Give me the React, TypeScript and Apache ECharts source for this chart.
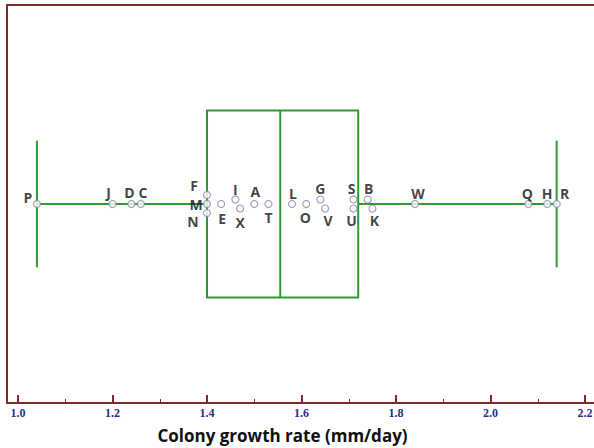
import React, { useEffect, useRef } from "react";
import * as echarts from "echarts";

// Isolate names, colony growth rates (mm/day), and vertical stacking level used to avoid overlap
const isolates = ["A","B","C","D","E","F","G","H","I","J","K","L","M","N","O","P","Q","R","S","T","U","V","W","X"];
const growthRates = [1.50,1.74,1.26,1.24,1.43,1.40,1.64,2.12,1.46,1.20,1.75,1.58,1.40,1.40,1.61,1.04,2.08,2.14,1.71,1.53,1.71,1.65,1.84,1.47];
const stackLevel = [0,1,0,0,0,2,1,0,1,0,-1,0,0,-2,0,0,0,0,1,0,-1,-1,0,-1];

// Box plot summary: [whisker low, Q1, median, Q3, whisker high]
const boxStats = [1.04, 1.40, 1.555, 1.72, 2.14];

const majorTicks = [1.0, 1.2, 1.4, 1.6, 1.8, 2.0, 2.2];
const minorTicks = [1.1, 1.3, 1.5, 1.7, 1.9, 2.1];

// label placement (style): offsets of each letter from its point
const labelOffsets: Record<string, [number, number]> = {
  A: [1, -13], B: [1, -11], C: [2, -12], D: [-2, -12], E: [1, 14], F: [-13, -9],
  G: [0, -11], H: [0, -11], I: [0, -10], J: [-4, -12], K: [2, 12], L: [1, -11],
  M: [-11, 0], N: [-14, 8], O: [-1, 13], P: [-9, -7], Q: [-1, -11], R: [8, -11],
  S: [-2, -11], T: [0, 13], U: [-2, 12], V: [3, 12], W: [3, -11], X: [0, 14],
};

const FRAME = "#7b2c2c";
const GREEN = "#2f9a30";
const X_MIN = 0.9767;
const X_MAX = 2.219;

export default function App() {
  const ref = useRef<HTMLDivElement>(null);
  useEffect(() => {
    if (!ref.current) return;
    const chart = echarts.init(ref.current, null, { renderer: "svg" });
    const boxHalf = 20.7;
    const capHalf = 14;
    const option: any = {
      animation: false,
      grid: { left: 7, right: 0, top: 5, bottom: 45, containLabel: false, outerBoundsMode: "none" },
      xAxis: [
        {
          type: "value",
          position: "bottom",
          min: X_MIN,
          max: X_MAX,
          axisLine: { show: true, onZero: false, lineStyle: { color: FRAME, width: 2 } },
          axisTick: { show: true, inside: true, length: 8, lineStyle: { color: FRAME, width: 2 }, customValues: majorTicks },
          axisLabel: {
            show: true,
            customValues: majorTicks,
            formatter: (v: number) => v.toFixed(1),
            color: "#2b2f82",
            fontFamily: "Liberation Serif",
            fontWeight: "bold",
            fontSize: 12,
            margin: 4,
          },
          splitLine: { show: false },
          name: "Colony growth rate (mm/day)",
          nameLocation: "middle",
          nameGap: 24,
          nameTextStyle: {
            color: "#111",
            fontFamily: "Open Sans",
            fontWeight: "bold",
            fontSize: 17,
            padding: [0, 36, 0, 0],
          },
        },
        {
          type: "value",
          position: "bottom",
          min: X_MIN,
          max: X_MAX,
          axisLine: { show: false, onZero: false },
          axisTick: { show: true, inside: true, length: 4, lineStyle: { color: FRAME, width: 1 }, customValues: minorTicks },
          axisLabel: { show: false },
          splitLine: { show: false },
        },
        {
          type: "value",
          position: "top",
          min: X_MIN,
          max: X_MAX,
          axisLine: { show: true, onZero: false, lineStyle: { color: FRAME, width: 2 } },
          axisTick: { show: false },
          axisLabel: { show: false },
          splitLine: { show: false },
        },
      ],
      yAxis: {
        type: "value",
        min: -44,
        max: 44,
        axisLine: { show: true, onZero: false, lineStyle: { color: FRAME, width: 2 } },
        axisTick: { show: false },
        axisLabel: { show: false },
        splitLine: { show: false },
      },
      series: [
        {
          type: "custom",
          coordinateSystem: "cartesian2d",
          xAxisIndex: 0,
          yAxisIndex: 0,
          z: 2,
          encode: { x: [0, 1, 2, 3, 4], y: 5 },
          data: [[...boxStats, 0]],
          renderItem: (params: any, api: any) => {
            const lo = api.value(0), q1 = api.value(1), med = api.value(2), q3 = api.value(3), hi = api.value(4);
            const pLoTop = api.coord([lo, capHalf]);
            const pLoBot = api.coord([lo, -capHalf]);
            const pHiTop = api.coord([hi, capHalf]);
            const pHiBot = api.coord([hi, -capHalf]);
            const pLoC = api.coord([lo, 0]);
            const pHiC = api.coord([hi, 0]);
            const pQ1C = api.coord([q1, 0]);
            const pQ3C = api.coord([q3, 0]);
            const pQ1Top = api.coord([q1, boxHalf]);
            const pQ3Bot = api.coord([q3, -boxHalf]);
            const pMedTop = api.coord([med, boxHalf]);
            const pMedBot = api.coord([med, -boxHalf]);
            const st = { stroke: GREEN, lineWidth: 2, fill: null };
            return {
              type: "group",
              children: [
                { type: "line", shape: { x1: pLoTop[0], y1: pLoTop[1], x2: pLoBot[0], y2: pLoBot[1] }, style: st },
                { type: "line", shape: { x1: pHiTop[0], y1: pHiTop[1], x2: pHiBot[0], y2: pHiBot[1] }, style: st },
                { type: "line", shape: { x1: pLoC[0], y1: pLoC[1], x2: pQ1C[0], y2: pQ1C[1] }, style: st },
                { type: "line", shape: { x1: pQ3C[0], y1: pQ3C[1], x2: pHiC[0], y2: pHiC[1] }, style: st },
                {
                  type: "rect",
                  shape: { x: pQ1Top[0], y: pQ1Top[1], width: pQ3Bot[0] - pQ1Top[0], height: pQ3Bot[1] - pQ1Top[1] },
                  style: { stroke: GREEN, lineWidth: 2, fill: "none" },
                },
                { type: "line", shape: { x1: pMedTop[0], y1: pMedTop[1], x2: pMedBot[0], y2: pMedBot[1] }, style: st },
              ],
            };
          },
        },
        {
          type: "scatter",
          xAxisIndex: 0,
          yAxisIndex: 0,
          z: 3,
          symbol: "circle",
          symbolSize: 7,
          itemStyle: { color: "#ffffff", borderColor: "#8a8aac", borderWidth: 1.2 },
          data: isolates.map((name, i) => ({
            name,
            value: [growthRates[i], stackLevel[i]],
            label: {
              show: true,
              position: "inside",
              offset: labelOffsets[name],
              formatter: name,
              color: "#111",
              fontFamily: "Open Sans",
              fontWeight: "bold",
              fontSize: 14,
              lineHeight: 13,
            },
          })),
        },
      ],
    };
    chart.setOption(option);
    return () => chart.dispose();
  }, []);
  return <div ref={ref} style={{ width: 594, height: 448, position: "absolute", left: 0, top: 0, background: "#fff" }} />;
}
